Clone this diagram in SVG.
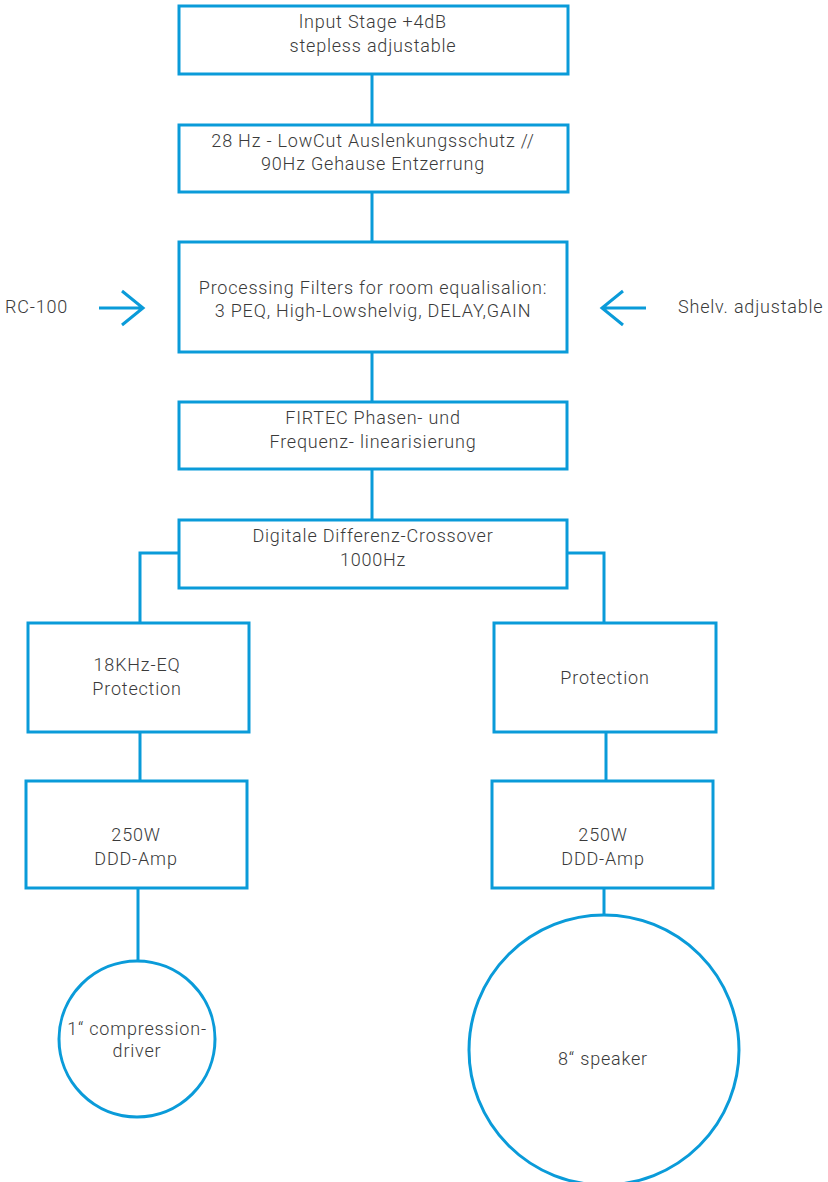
<svg xmlns="http://www.w3.org/2000/svg" width="828" height="1182" viewBox="0 0 828 1182">
<style>
.b{fill:#fff;stroke:#0a9bd9;stroke-width:3}
.c{fill:none;stroke:#0a9bd9;stroke-width:3}
text{font-family:Roboto,"Liberation Sans",sans-serif;font-size:18px;letter-spacing:0.8px;fill:#3a3a3a;text-anchor:middle;font-weight:300}
</style>
<rect width="828" height="1182" fill="#fff"/>
<g id="connectors">
<path class="c" d="M372 74V124M372 192V242M372 352V401M372 469V520"/>
<path class="c" d="M179 553H140V623M567 553H604V623"/>
<path class="c" d="M140 732V781M606 732V781M138 888V961M604 888V915"/>
<path class="c" d="M99 308H143M122 291L143 308L122 325"/>
<path class="c" d="M646 308H602M623 291L602 308L623 325"/>
</g>
<g id="input"><rect class="b" x="179" y="6" width="389" height="68"/><text x="373" y="28">lnput Stage +4dB</text><text x="373" y="52">stepless adjustable</text></g>
<g id="lowcut"><rect class="b" x="179" y="125" width="389" height="67"/><text x="373" y="147">28 Hz - LowCut Auslenkungsschutz //</text><text x="373" y="170">90Hz Gehause Entzerrung</text></g>
<g id="processing"><rect class="b" x="179" y="242" width="388" height="110"/><text x="373" y="294">Processing Filters for room equalisalion:</text><text x="373" y="317">3 PEQ, High-Lowshelvig, DELAY,GAIN</text></g>
<g id="rc100"><text x="5" y="313" style="text-anchor:start">RC-100</text></g>
<g id="shelv"><text x="678" y="313" style="text-anchor:start">Shelv. adjustable</text></g>
<g id="firtec"><rect class="b" x="179" y="402" width="388" height="67"/><text x="373" y="424">FIRTEC Phasen- und</text><text x="373" y="448">Frequenz- linearisierung</text></g>
<g id="crossover"><rect class="b" x="179" y="520" width="388" height="68"/><text x="373" y="542">Digitale Differenz-Crossover</text><text x="373" y="566">1000Hz</text></g>
<g id="eq18"><rect class="b" x="28" y="623" width="221" height="109"/><text x="137" y="671">18KHz-EQ</text><text x="137" y="695">Protection</text></g>
<g id="amp1"><rect class="b" x="26" y="781" width="221" height="107"/><text x="136" y="841">250W</text><text x="136" y="865">DDD-Amp</text></g>
<g id="protection"><rect class="b" x="494" y="623" width="222" height="109"/><text x="605" y="684">Protection</text></g>
<g id="amp2"><rect class="b" x="492" y="781" width="221" height="107"/><text x="603" y="841">250W</text><text x="603" y="865">DDD-Amp</text></g>
<g id="driver"><circle class="b" cx="137" cy="1039" r="78"/><text x="137" y="1035">1“ compression-</text><text x="137" y="1057">driver</text></g>
<g id="speaker"><circle class="b" cx="604" cy="1050" r="135"/><text x="603" y="1065">8“ speaker</text></g>
</svg>
